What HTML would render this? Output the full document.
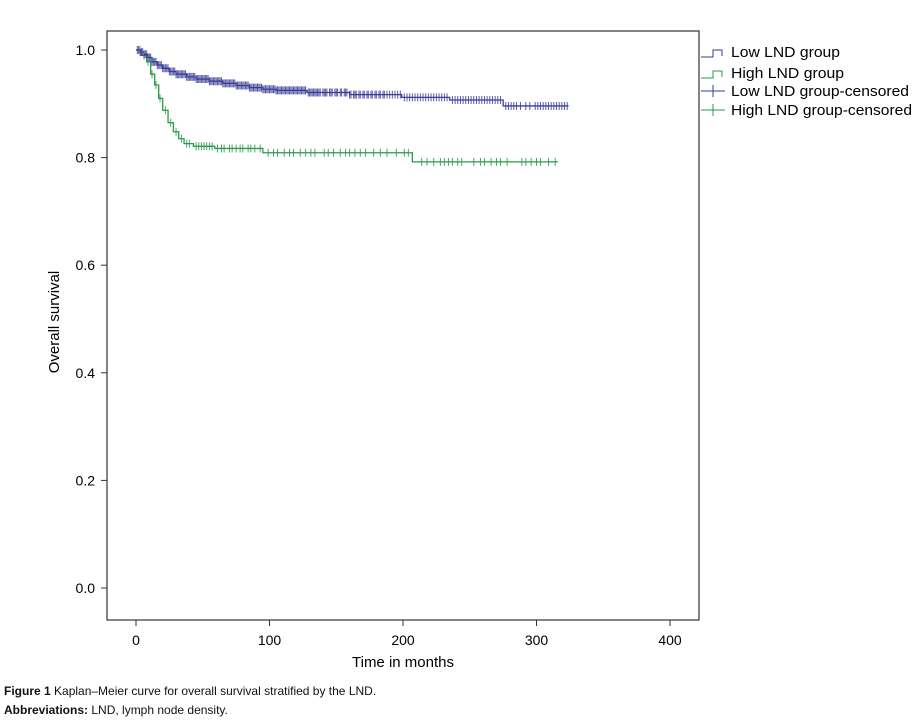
<!DOCTYPE html>
<html><head><meta charset="utf-8">
<style>
body{margin:0;background:#fff;width:919px;height:723px;overflow:hidden;font-family:"Liberation Sans",Arial,sans-serif;}
svg text{font-family:"Liberation Sans",Arial,sans-serif;}
.cap{position:absolute;left:4px;font-size:12px;color:#111;}
</style></head>
<body>
<svg id="chart" width="919" height="680" style="position:absolute;left:0;top:0">
  <rect x="107" y="31" width="592" height="589" fill="none" stroke="#333" stroke-width="1.2"/>
  <g id="axes"></g>
  <g id="series"></g>
  <text transform="translate(59,322) rotate(-90)" text-anchor="middle" font-size="15">Overall survival</text>
  <text x="403" y="667" text-anchor="middle" font-size="15">Time in months</text>
  <g font-size="15">
    <g><path d="M701,57 H713 V50 H722 V56" fill="none" stroke="#3a3d96"/><text x="731" y="57" textLength="109" lengthAdjust="spacingAndGlyphs">Low LND group</text></g>
    <g><path d="M701,78 H713 V71 H722 V77" fill="none" stroke="#2a9a4a"/><text x="731" y="78" textLength="113" lengthAdjust="spacingAndGlyphs">High LND group</text></g>
    <g><path d="M701,91 H725 M713,85 V97" stroke="#3a3d96"/><text x="731" y="96" textLength="178" lengthAdjust="spacingAndGlyphs">Low LND group-censored</text></g>
    <g><path d="M701,110 H725 M713,104 V116" stroke="#2a9a4a"/><text x="731" y="115" textLength="181" lengthAdjust="spacingAndGlyphs">High LND group-censored</text></g>
  </g>
</svg>
<div class="cap" style="top:684px"><b>Figure 1</b> Kaplan–Meier curve for overall survival stratified by the LND.</div>
<div class="cap" style="top:703px"><b>Abbreviations:</b> LND, lymph node density.</div>
<script>
const xTicks=[0,100,200,300,400];
const yTicks=[0.0,0.2,0.4,0.6,0.8,1.0];
const lowTimes=[0,3,6,9,12,16,20,25,30,38,45,55,65,75,85,95,105,128,160,199,235,275,324];
const lowSurv=[1,0.996,0.992,0.986,0.978,0.972,0.966,0.96,0.955,0.95,0.946,0.942,0.938,0.934,0.93,0.927,0.925,0.921,0.917,0.912,0.907,0.896,0.896];
const lowCens=[1,2,3,4,5,6,7,8,9,10,11,12,13,14,15,16,17,18,19,20,21,22,23,24,25,26,27,28,29,30,31,32,33,34,35,36,37,38,39,40,41,42,43,44,45,46,47,48,49,50,51,52,53,54,55,56,57,58,59,60,61,62,63,64,65,66,67,68,69,70,71,72,73,74,75,76,77,78,79,80,81,82,83,84,85,86,87,88,89,90,91,92,93,94,95,96,97,98,99,100,101,102,103,104,105,106,107,108,109,110,111,112,113,114,115,116,117,118,119,120,121,122,123,124,125,126,127,129,130,131,132,133,134,135,136,137,138,140,141,142,143,145,146,147,149,150,151,153,154,156,157,158,160,161,163,164,165,167,168,170,171,173,174,176,177,179,180,182,183,185,186,188,190,192,194,196,198,201,203,205,207,209,211,213,215,217,219,221,223,225,227,229,231,233,237,239,241,243,245,247,249,251,253,255,257,259,261,263,265,267,269,271,273,277,279,281,283,285,288,292,295,299,301,303,305,307,309,311,313,315,317,319,321,323];
const highTimes=[0,4,8,11,14,17,20,24,28,32,36,43,59,95,207,316];
const highSurv=[1,0.99,0.978,0.955,0.935,0.91,0.888,0.865,0.848,0.835,0.826,0.821,0.817,0.809,0.792,0.792];
const highCens=[3,6,9,12,15,18,22,26,30,34,38,40,45,47,49,51,53,55,57,61,64,66,70,72,75,78,80,84,86,89,93,99,103,106,111,115,118,123,127,131,134,141,144,148,153,157,160,164,168,172,178,183,188,195,201,204,214,218,223,228,231,234,237,241,244,253,258,261,266,270,273,278,289,292,296,300,303,309,314];

const NS="http://www.w3.org/2000/svg";
const x=t=>136+t*(670-136)/400;
const y=s=>588-s*(588-50);
function mk(tag,attrs,parent){const e=document.createElementNS(NS,tag);for(const k in attrs)e.setAttribute(k,attrs[k]);parent.appendChild(e);return e;}
const axes=document.getElementById('axes'),ser=document.getElementById('series');
xTicks.forEach(v=>{
  const l=mk('line',{x1:x(v),x2:x(v),y1:620,y2:626,stroke:'#333'},axes);
  
  
  const t=mk('text',{x:x(v),y:645,'text-anchor':'middle','font-size':14},axes);t.textContent=v;
  
  
});
yTicks.forEach(v=>{
  const l=mk('line',{x1:101,x2:107,y1:y(v),y2:y(v),stroke:'#333'},axes);
  
  
  const t=mk('text',{x:95,y:y(v)+5,'text-anchor':'end','font-size':14},axes);t.textContent=v.toFixed(1);
  
  
});
function survAt(times,surv,t){let s=surv[0];for(let i=0;i<times.length;i++){if(times[i]<=t)s=surv[i];}return s;}
function draw(times,surv,cens,color,name){
  let d='M'+x(times[0])+','+y(surv[0]);
  for(let i=1;i<times.length;i++){d+=' H'+x(times[i])+' V'+y(surv[i]);}
  const p=mk('path',{d:d,fill:'none',stroke:color,'stroke-width':1.3},ser);
  
  
  let cd='';
  cens.forEach(t=>{const cx=x(t),cy=y(survAt(times,surv,t));cd+='M'+cx+','+(cy-4)+' V'+(cy+4)+' ';});
  const c=mk('path',{d:cd,fill:'none',stroke:color,'stroke-width':1,opacity:0.85},ser);
  
  
}
draw(highTimes,highSurv,highCens,'#2a9a4a','high-lnd');
draw(lowTimes,lowSurv,lowCens,'#3a3d96','low-lnd');
</script>
</body></html>
